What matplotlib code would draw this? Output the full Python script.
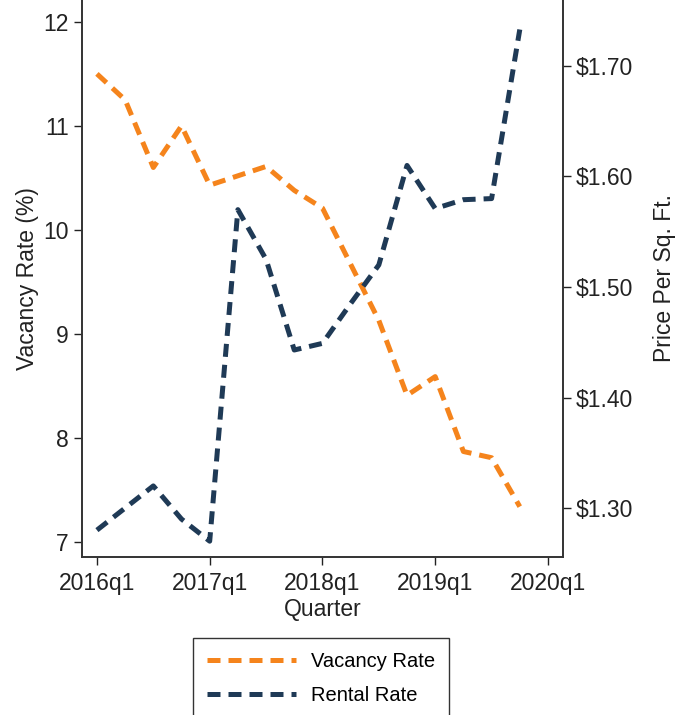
import matplotlib
matplotlib.use('Agg')
import matplotlib.pyplot as plt
from matplotlib.ticker import FuncFormatter

# Quarterly series, 2016q1 .. 2019q4
quarters = list(range(16))
vacancy_rate = [11.5, 11.25, 10.6, 11.0, 10.43, 10.52, 10.61, 10.38,
                10.21, 9.67, 9.13, 8.41, 8.59, 7.87, 7.81, 7.34]
rental_rate = [1.28, 1.30, 1.32, 1.29, 1.27, 1.57, 1.525, 1.443,
               1.449, 1.485, 1.52, 1.61, 1.571, 1.579, 1.58, 1.733]

xtick_pos = [0, 4, 8, 12, 16]
xtick_labels = ['2016q1', '2017q1', '2018q1', '2019q1', '2020q1']
left_ticks = [7, 8, 9, 10, 11, 12]
right_ticks = [1.30, 1.40, 1.50, 1.60, 1.70]

orange = '#f5841c'
navy = '#1f3a56'

plt.rcParams['font.family'] = ['Liberation Sans', 'DejaVu Sans']

fig = plt.figure(figsize=(6.89, 7.15), dpi=100)
ax = fig.add_axes([0.119, 0.221, 0.698, 0.779])
ax2 = ax.twinx()

dash = (0, (2.6, 1.6))
l1, = ax.plot(quarters, vacancy_rate, color=orange, lw=3.6, linestyle=dash,
              label='Vacancy Rate')
l2, = ax2.plot(quarters, rental_rate, color=navy, lw=3.6, linestyle=dash,
               label='Rental Rate')

ax.set_xlim(-0.53, 16.53)
ax.set_ylim(6.856, 12.21)
ax2.set_ylim(1.2557, 1.7597)

ax.set_xticks(xtick_pos)
ax.set_xticklabels(xtick_labels)
ax.set_yticks(left_ticks)
ax2.set_yticks(right_ticks)
ax2.yaxis.set_major_formatter(FuncFormatter(lambda v, p: f'${v:.2f}'))

for a in (ax, ax2):
    a.spines['top'].set_visible(False)
    for s in a.spines.values():
        s.set_color('#333333')
        s.set_linewidth(1.2)
    a.tick_params(labelsize=16.5, length=6, width=1, colors='#222222')
ax.tick_params(axis='x', pad=5)

ax.set_xlabel('Quarter', fontsize=16.5, labelpad=2, color='#222222')
ax.set_ylabel('Vacancy Rate (%)', fontsize=16.5, labelpad=3, color='#222222')
ax2.set_ylabel('Price Per Sq. Ft.', fontsize=16.5, labelpad=14, color='#222222')

leg = fig.legend(handles=[l1, l2], loc='upper left',
                 bbox_to_anchor=(193 / 689, 1 - 638 / 715),
                 borderaxespad=0, fontsize=14.5, handlelength=4.4,
                 handletextpad=0.75, labelspacing=0.75, borderpad=0.7,
                 fancybox=False, framealpha=1)
leg.get_frame().set_edgecolor('#333333')
leg.get_frame().set_linewidth(1.0)

fig.savefig('out.png', dpi=100)
